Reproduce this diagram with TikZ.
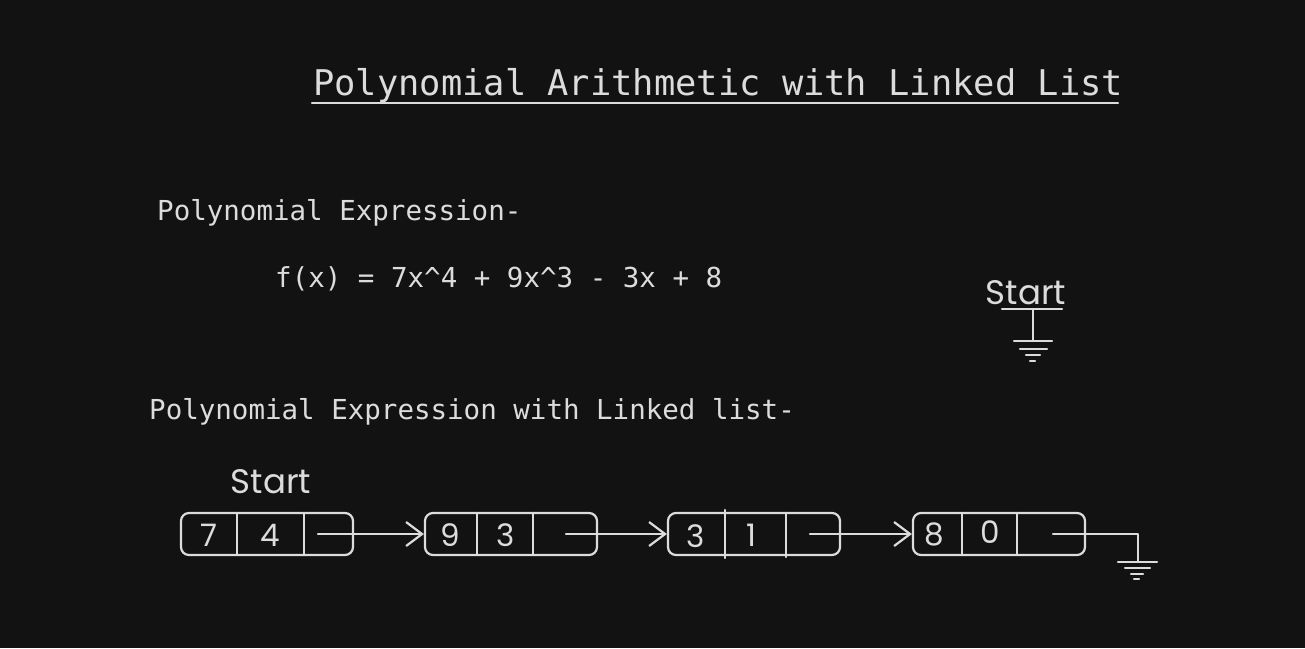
\documentclass[tikz,border=0pt]{standalone}
\usepackage{fontspec}
\usetikzlibrary{arrows.meta}
\newfontfamily\monof{DejaVu Sans Mono}
\newfontfamily\handf{Poppins}
\definecolor{bg}{HTML}{121212}
\definecolor{ink}{HTML}{DCDCDC}
\begin{document}
\begin{tikzpicture}[x=1pt,y=-1pt,line cap=round,line join=round,
  txt/.style={text=ink,inner sep=0pt,anchor=base west,font=\monof\fontsize{27.5}{30}\selectfont},
  hand/.style={text=ink,inner sep=0pt,font=\handf\fontsize{34}{38}\selectfont},
  digit/.style={text=ink,inner sep=0pt,font=\handf\fontsize{31}{34}\selectfont},
  listbox/.style={draw=ink,line width=2.2pt,rounded corners=8pt,minimum width=172pt,minimum height=42pt,inner sep=0pt},
  stroke/.style={draw=ink,line width=2.2pt},
  link/.style={stroke,-{Straight Barb[length=16pt,width=24pt,line width=2.2pt]}}]
\fill[bg] (0,0) rectangle (1305,648);
\useasboundingbox (0,0) rectangle (1305,648);
% title
\node[txt,font=\monof\fontsize{35.4}{40}\selectfont] (title) at (313,95) {Polynomial Arithmetic with Linked List};
\draw[stroke] (312,103) -- (1118,103);
% expressions
\node[txt] (pe) at (157,220) {Polynomial Expression-};
\node[txt] (fx) at (275,287) {f(x) = 7x\^{}4 + 9x\^{}3 - 3x + 8};
\node[txt] (pel) at (149,419) {Polynomial Expression with Linked list-};
% top-right start
\node[hand,anchor=base] (st2) at (1026,304) {Start};
\draw[stroke] (1002,309) -- (1062,309);
\draw[stroke] (1033,309) -- (1033,341);
\draw[stroke] (1014,341) -- (1052,341);
\draw[stroke] (1020,349) -- (1047,349);
\draw[stroke] (1026,355) -- (1040,355);
\draw[stroke] (1030,361) -- (1035,361);
% start label
\node[hand,anchor=base] (st1) at (271,493) {Start};
% boxes
\node[listbox] (b1) at (267,534) {};
\node[listbox] (b2) at (511,534) {};
\node[listbox] (b3) at (754,534) {};
\node[listbox] (b4) at (999,534) {};
% dividers
\draw[stroke] (237,513) -- (237,555);
\draw[stroke] (304,513) -- (304,555);
\draw[stroke] (477,513) -- (477,555);
\draw[stroke] (533,513) -- (533,555);
\draw[stroke] (725,510) -- (725,558);
\draw[stroke] (786,513) -- (786,557);
\draw[stroke] (962,513) -- (962,555);
\draw[stroke] (1017,513) -- (1017,555);
% digits
\node[digit] (d11) at (209,535) {7};
\node[digit] (d12) at (270,535) {4};
\node[digit] (d21) at (450,535) {9};
\node[digit] (d22) at (506,535) {3};
\node[digit] (d31) at (696,536) {3};
\node[digit] (d32) at (751,535) {1};
\node[digit] (d41) at (934,534) {8};
\node[digit] (d42) at (990,532) {0};
% links
\coordinate (p1) at (318,534);
\coordinate (p2) at (566,534);
\coordinate (p3) at (810,534);
\coordinate (p4) at (1053,534);
\draw[link] (p1) -- (b2.west);
\draw[link] (p2) -- (b3.west);
\draw[link] (p3) -- (b4.west);
\coordinate (g) at (1138,562);
\draw[stroke] (p4) -- (1138,534) -- (g);
\draw[stroke] (1118,562) -- (1157,562);
\draw[stroke] (1125,568) -- (1150,568);
\draw[stroke] (1131,574) -- (1143,574);
\draw[stroke] (1134,579) -- (1139,579);
\end{tikzpicture}
\end{document}
